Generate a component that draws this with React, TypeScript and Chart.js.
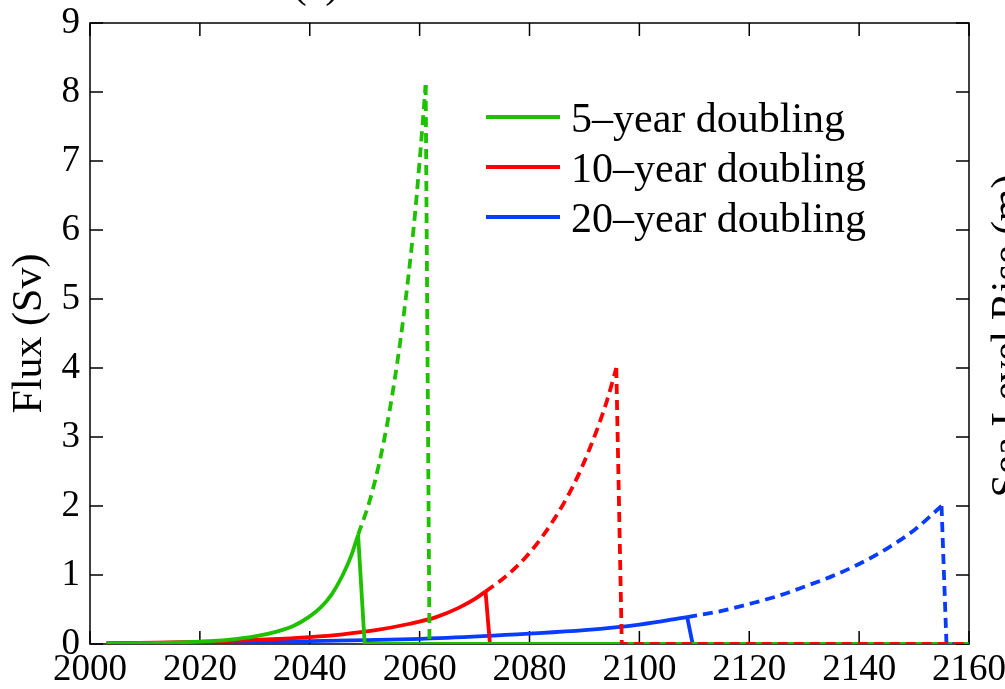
import { useEffect, useRef } from "react";
import { Chart, registerables } from "chart.js";

Chart.register(...registerables);

const FONT = "'Liberation Serif', 'Times New Roman', serif";

const X_TICKS = [2000, 2020, 2040, 2060, 2080, 2100, 2120, 2140, 2160];
const Y_TICKS = [0, 1, 2, 3, 4, 5, 6, 7, 8, 9];

const SERIES_LABELS = ["5–year doubling", "10–year doubling", "20–year doubling"];
const SERIES_COLORS = ["#1fc000", "#ff0000", "#0a3cff"];

// 5-year doubling
const greenRiseYears = [2003, 2010, 2015, 2020, 2025, 2030, 2034, 2037, 2040, 2042, 2044, 2046, 2047.5, 2048.8];
const greenRiseFlux = [0.005, 0.012, 0.02, 0.035, 0.06, 0.11, 0.18, 0.26, 0.4, 0.53, 0.72, 1.0, 1.27, 1.58];
const greenDropYears = [2048.8, 2050, 2160];
const greenDropFlux = [1.58, 0, 0];
const greenDashYears = [2048.8, 2051, 2053, 2055, 2057, 2059, 2060, 2061.1];
const greenDashFlux = [1.58, 2.1, 2.75, 3.6, 4.7, 6.1, 7.0, 8.1];
const greenDashDropYears = [2061.1, 2061.8, 2160];
const greenDashDropFlux = [8.1, 0, 0];

// 10-year doubling
const redRiseYears = [2003, 2012, 2022, 2032, 2040, 2046, 2052, 2058, 2063, 2067, 2070, 2072];
const redRiseFlux = [0.01, 0.018, 0.035, 0.065, 0.1, 0.14, 0.2, 0.29, 0.39, 0.52, 0.65, 0.76];
const redDropYears = [2072, 2072.8, 2160];
const redDropFlux = [0.76, 0, 0];
const redDashYears = [2072, 2076, 2080, 2084, 2088, 2091, 2094, 2095.8];
const redDashFlux = [0.76, 1.0, 1.32, 1.75, 2.3, 2.84, 3.5, 4.0];
const redDashDropYears = [2095.8, 2096.8, 2160];
const redDashDropFlux = [4.0, 0, 0];

// 20-year doubling
const blueRiseYears = [2003, 2020, 2035, 2050, 2065, 2080, 2090, 2100, 2108.7];
const blueRiseFlux = [0.01, 0.02, 0.035, 0.055, 0.09, 0.15, 0.2, 0.28, 0.39];
const blueDropYears = [2108.7, 2109.7, 2160];
const blueDropFlux = [0.39, 0, 0];
const blueDashYears = [2108.7, 2115, 2120, 2125, 2130, 2135, 2140, 2145, 2150, 2155];
const blueDashFlux = [0.39, 0.48, 0.58, 0.69, 0.83, 0.98, 1.16, 1.38, 1.65, 2.0];
const blueDashDropYears = [2155, 2155.9, 2160];
const blueDashDropFlux = [2.0, 0, 0];

const pts = (xs: number[], ys: number[]) => xs.map((x, i) => ({ x, y: ys[i] }));

const DASH = [10, 6];
const TICK_LEN = 13;
const LINE_W = 3.8;

function line(xs: number[], ys: number[], color: string, dashed: boolean, curved: boolean) {
  return {
    data: pts(xs, ys),
    borderColor: color,
    borderWidth: LINE_W,
    borderDash: dashed ? DASH : [],
    pointRadius: 0,
    cubicInterpolationMode: curved ? "monotone" : "default",
    tension: 0,
    fill: false,
  };
}

const framePlugin = {
  id: "frame",
  beforeDatasetsDraw(chart: any) {
    const { ctx, chartArea: a, scales } = chart;
    ctx.save();
    ctx.strokeStyle = "#000";
    ctx.lineWidth = 1.5;
    ctx.strokeRect(a.left, a.top, a.right - a.left, a.bottom - a.top);
    ctx.beginPath();
    for (const v of X_TICKS) {
      const px = scales.x.getPixelForValue(v);
      ctx.moveTo(px, a.bottom);
      ctx.lineTo(px, a.bottom - TICK_LEN);
      ctx.moveTo(px, a.top);
      ctx.lineTo(px, a.top + TICK_LEN);
    }
    for (const v of Y_TICKS) {
      const py = scales.y.getPixelForValue(v);
      ctx.moveTo(a.left, py);
      ctx.lineTo(a.left + TICK_LEN, py);
      ctx.moveTo(a.right, py);
      ctx.lineTo(a.right - TICK_LEN, py);
    }
    ctx.stroke();
    ctx.restore();
  },
  afterDatasetsDraw(chart: any) {
    const { ctx } = chart;
    ctx.save();
    // legend
    SERIES_LABELS.forEach((label, i) => {
      const base = 132 + i * 50;
      ctx.strokeStyle = SERIES_COLORS[i];
      ctx.lineWidth = LINE_W;
      ctx.beginPath();
      ctx.moveTo(486, base - 15);
      ctx.lineTo(560, base - 15);
      ctx.stroke();
      ctx.fillStyle = "#000";
      ctx.font = `42px ${FONT}`;
      ctx.textAlign = "left";
      ctx.textBaseline = "alphabetic";
      ctx.fillText(label, 571, base);
    });
    // cut-off title and right axis label
    ctx.fillStyle = "#000";
    ctx.font = `42px ${FONT}`;
    ctx.textAlign = "center";
    ctx.textBaseline = "alphabetic";
    ctx.fillText("(a)", 316, -3);
    ctx.translate(1020, 336);
    ctx.rotate(-Math.PI / 2);
    ctx.fillText("Sea Level Rise (m)", 0, 0);
    ctx.restore();
  },
};

export default function App() {
  const canvasRef = useRef<HTMLCanvasElement>(null);

  useEffect(() => {
    const canvas = canvasRef.current;
    if (!canvas) return;
    const chart = new Chart(canvas, {
      type: "line",
      data: {
        datasets: [
          line(redDashDropYears, redDashDropFlux, SERIES_COLORS[1], true, false),
          line(blueDashDropYears, blueDashDropFlux, SERIES_COLORS[2], true, false),
          line(greenDashDropYears, greenDashDropFlux, SERIES_COLORS[0], true, false),
          line(greenDashYears, greenDashFlux, SERIES_COLORS[0], true, true),
          line(redDashYears, redDashFlux, SERIES_COLORS[1], true, true),
          line(blueDashYears, blueDashFlux, SERIES_COLORS[2], true, true),
          line(greenRiseYears, greenRiseFlux, SERIES_COLORS[0], false, true),
          line(greenDropYears, greenDropFlux, SERIES_COLORS[0], false, false),
          line(redRiseYears, redRiseFlux, SERIES_COLORS[1], false, true),
          line(redDropYears, redDropFlux, SERIES_COLORS[1], false, false),
          line(blueRiseYears, blueRiseFlux, SERIES_COLORS[2], false, true),
          line(blueDropYears, blueDropFlux, SERIES_COLORS[2], false, false),
        ] as any,
      },
      options: {
        responsive: false,
        animation: false,
        layout: { padding: { left: 0, top: 23, right: 36, bottom: 0 } },
        plugins: { legend: { display: false }, tooltip: { enabled: false } },
        scales: {
          x: {
            type: "linear",
            min: 2000,
            max: 2160,
            afterBuildTicks: (s: any) => {
              s.ticks = X_TICKS.map((value) => ({ value }));
            },
            ticks: {
              font: { family: FONT, size: 37 },
              color: "#000",
              padding: 4,
              maxRotation: 0,
              autoSkip: false,
              callback: (v: any) => String(v),
            },
            grid: { display: false, drawTicks: false },
            border: { display: false },
            afterFit: (s: any) => {
              s.height = 45;
              s.paddingLeft = 0;
              s.paddingRight = 0;
            },
          },
          y: {
            type: "linear",
            min: 0,
            max: 9,
            afterBuildTicks: (s: any) => {
              s.ticks = Y_TICKS.map((value) => ({ value }));
            },
            ticks: {
              font: { family: FONT, size: 37 },
              color: "#000",
              padding: 10,
              autoSkip: false,
              callback: (v: any) => String(v),
            },
            title: {
              display: true,
              text: "Flux (Sv)",
              color: "#000",
              font: { family: FONT, size: 42 },
              padding: { top: 5, bottom: 0 },
            },
            grid: { display: false, drawTicks: false },
            border: { display: false },
            afterFit: (s: any) => {
              s.width = 90;
              s.paddingTop = 0;
              s.paddingBottom = 0;
            },
          },
        },
      },
      plugins: [framePlugin],
    });
    return () => chart.destroy();
  }, []);

  return (
    <div style={{ position: "fixed", left: 0, top: 0, width: 1005, height: 689, background: "#fff" }}>
      <canvas ref={canvasRef} width={1005} height={689} style={{ width: 1005, height: 689 }} />
    </div>
  );
}
